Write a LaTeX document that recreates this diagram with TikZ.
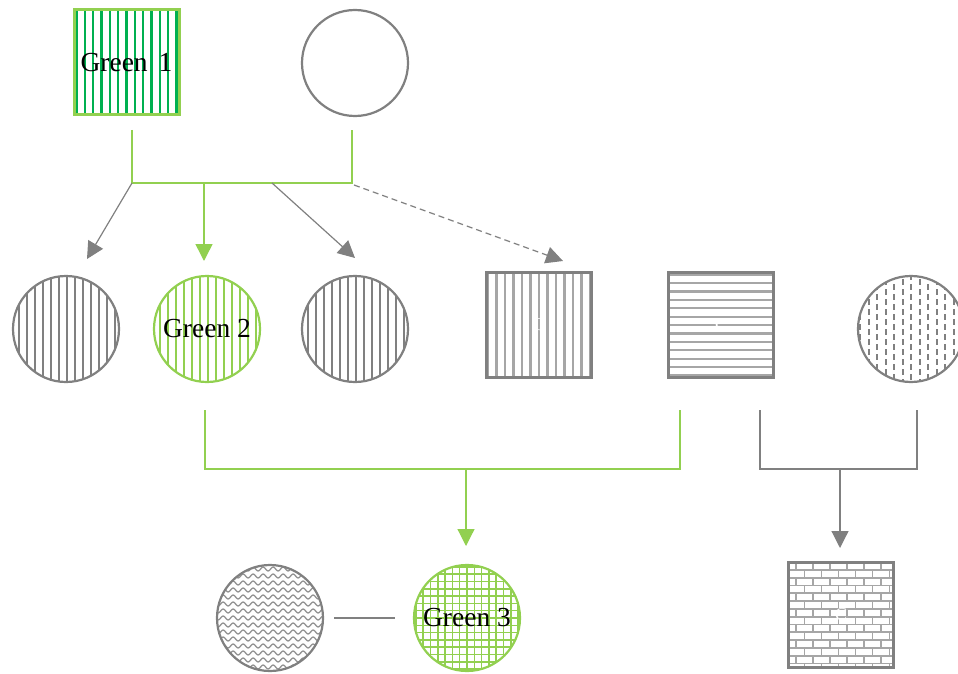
\documentclass[tikz,border=0pt]{standalone}
\usepackage{fontspec}
\setmainfont{Liberation Serif}
\usetikzlibrary{arrows.meta,decorations.pathmorphing}
\definecolor{lgreen}{HTML}{92D050}
\definecolor{dgreen}{HTML}{00B050}
\definecolor{gry}{HTML}{808080}
\definecolor{lgry}{HTML}{A6A6A6}
\begin{document}
\begin{tikzpicture}[x=1pt,y=-1pt,
  circ/.style={circle, draw=gry, line width=2.2pt, minimum size=106pt, inner sep=0pt},
  sq/.style={rectangle, draw=gry, line width=2.5pt, minimum size=105pt, inner sep=0pt},
  greenbord/.style={draw=lgreen},
  lbl/.style={font=\fontsize{27.5}{30}\selectfont, text=black},
  wlbl/.style={font=\fontsize{18}{20}\selectfont, text=white},
  gline/.style={draw=lgreen, line width=1.2pt},
  kline/.style={draw=gry, line width=1.2pt},
  tip/.style={-{Triangle[length=17pt,width=17pt]}}]
\useasboundingbox (0,0) rectangle (958,674);

% node centres
\coordinate (pa) at (126.5,62.5);
\coordinate (pb) at (355,63);
\coordinate (pc) at (66,329);
\coordinate (pd) at (207,329);
\coordinate (pe) at (355,329);
\coordinate (pf) at (539,325);
\coordinate (pg) at (721,325);
\coordinate (ph) at (911,329);
\coordinate (pi) at (270,618);
\coordinate (pj) at (467,618);
\coordinate (pk) at (841,615);

% ---- fill patterns ----
% Green 1: dark green vertical stripes
\begin{scope}[shift={(pa)}]
  \clip (-53,-53) rectangle (53,53);
  \foreach \i in {-6,...,6} \draw[dgreen, line width=2.6pt] (\i*8.33,-60) -- (\i*8.33,60);
\end{scope}
% grey striped circles
\foreach \p in {pc,pe} {
  \begin{scope}[shift={(\p)}]
    \clip (0,0) circle (53);
    \foreach \i in {-7,...,7} \draw[gry, line width=2pt] (\i*8+1,-60) -- (\i*8+1,60);
  \end{scope}
}
% Green 2: light green stripes
\begin{scope}[shift={(pd)}]
  \clip (0,0) circle (53);
  \foreach \i in {-7,...,7} \draw[lgreen, line width=1.8pt] (\i*8+1,-60) -- (\i*8+1,60);
\end{scope}
% vertical stripes square
\begin{scope}[shift={(pf)}]
  \clip (-53,-53) rectangle (53,53);
  \foreach \i in {-6,...,6} \draw[lgry, line width=2.2pt] (\i*8.5,-60) -- (\i*8.5,60);
\end{scope}
% horizontal stripes square
\begin{scope}[shift={(pg)}]
  \clip (-53,-53) rectangle (53,53);
  \foreach \i in {-6,...,6} \draw[lgry, line width=2.2pt] (-60,\i*8.4) -- (60,\i*8.4);
\end{scope}
% dashed columns circle
\begin{scope}[shift={(ph)}]
  \clip (0,0) circle (53);
  \foreach \i in {-7,...,7} {
    \pgfmathsetmacro\ph{mod(\i+7,2)*5}
    \draw[gry, line width=2pt, dash pattern=on 6pt off 4pt, dash phase=\ph pt] (\i*8.5,-60) -- (\i*8.5,60);
  }
\end{scope}
% wavy circle
\begin{scope}[shift={(pi)}]
  \clip (0,0) circle (53);
  \foreach \i in {-8,...,8}
    \draw[gry!85, line width=1.3pt, decorate, decoration={snake, segment length=10pt, amplitude=2pt}] (-60,\i*7) -- (60,\i*7);
\end{scope}
% Green 3: grid
\begin{scope}[shift={(pj)}]
  \clip (0,0) circle (53);
  \foreach \i in {-8,...,8} {
    \draw[lgreen, line width=1.5pt] (\i*7.3,-60) -- (\i*7.3,60);
    \draw[lgreen, line width=1.5pt] (-60,\i*7.3) -- (60,\i*7.3);
  }
\end{scope}
% brick square
\begin{scope}[shift={(pk)}]
  \clip (-53,-53) rectangle (53,53);
  \foreach \r in {0,...,14} {
    \pgfmathsetmacro\yy{-53+\r*7.8}
    \pgfmathsetmacro\off{mod(\r,2)*8.5}
    \draw[lgry, line width=1.8pt] (-60,\yy) -- (60,\yy);
    \foreach \c in {0,...,8} \draw[lgry, line width=1.8pt] (-62+\off+\c*17,\yy) -- ++(0,7.8);
  }
\end{scope}

% ---- nodes ----
\node[sq, greenbord, line width=3pt, lbl] (g1) at (pa) {Green\hspace{0.4em}1};
\node[circ] (top) at (pb) {};
\node[circ] (c1) at (pc) {};
\node[circ, greenbord, lbl] (g2) at (pd) {Green 2};
\node[circ] (c3) at (pe) {};
\node[sq, wlbl] (s1) at (pf) {C};
\node[sq, wlbl] (s2) at (pg) {C};
\node[circ] (c6) at (ph) {};
\node[circ] (w) at (pi) {};
\node[circ, greenbord, lbl] (g3) at (pj) {Green 3};
\node[sq, wlbl] (bk) at (pk) {C};

% ---- connector end points ----
\coordinate (a1) at (132,130);
\coordinate (a2) at (352,130);
\coordinate (j1) at (132,183);
\coordinate (j2) at (352,183);
\coordinate (j3) at (204,183);
\coordinate (j4) at (272,183);
\coordinate (j5) at (354,185);
\coordinate (b1) at (205,410);
\coordinate (b2) at (680,410);
\coordinate (k1) at (205,469);
\coordinate (k2) at (680,469);
\coordinate (k3) at (466,469);
\coordinate (b3) at (760,410);
\coordinate (b4) at (917,410);
\coordinate (k4) at (760,469);
\coordinate (k5) at (917,469);
\coordinate (k6) at (840,469);
\coordinate (t1) at (87,259);
\coordinate (t2) at (204,261);
\coordinate (t3) at (355,258);
\coordinate (t4) at (563,261);
\coordinate (t5) at (466,546);
\coordinate (t6) at (840,548);
\coordinate (h1) at (334,618);
\coordinate (h2) at (395,618);

% ---- connectors ----
\draw[gline] (a1) -- (j1) -- (j2) -- (a2);
\draw[kline, tip] (j1) -- (t1);
\draw[gline, tip, line width=1.5pt] (j3) -- (t2);
\draw[kline, tip] (j4) -- (t3);
\draw[kline, tip, dash pattern=on 6pt off 4pt] (j5) -- (t4);
\draw[gline] (b1) -- (k1) -- (k2) -- (b2);
\draw[gline, tip] (k3) -- (t5);
\draw[kline] (b3) -- (k4) -- (k5) -- (b4);
\draw[kline, tip] (k6) -- (t6);
\draw[kline] (h1) -- (h2);
\end{tikzpicture}
\end{document}
